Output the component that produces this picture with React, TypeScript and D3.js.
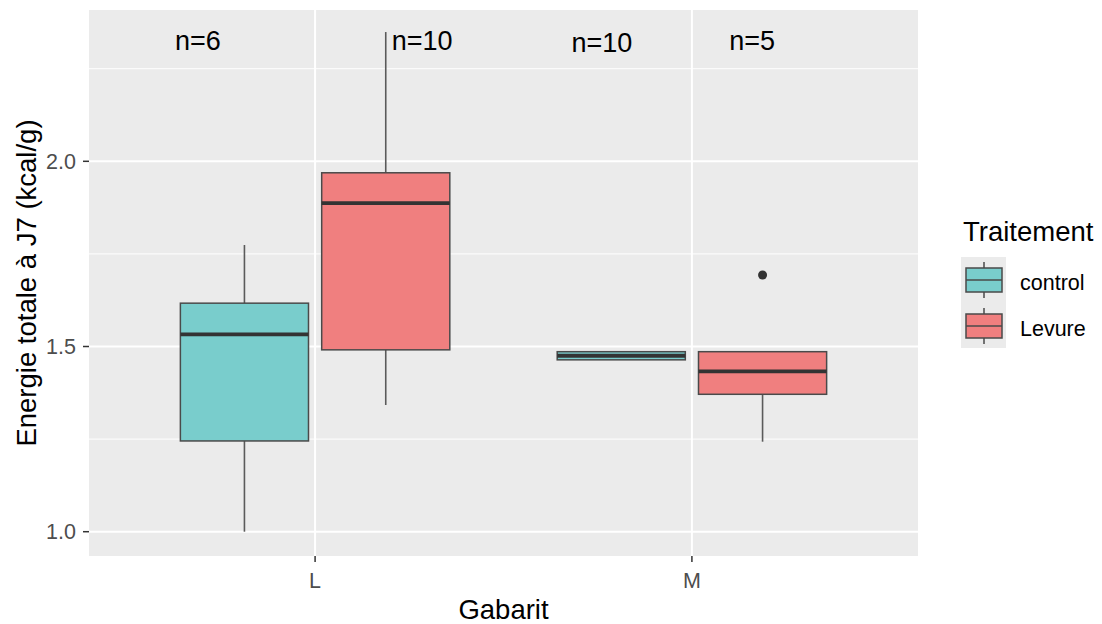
import React from "react";
import * as d3 from "d3";

const categories = ["L", "M"];
const treatments = ["control", "Levure"];
const fillColors = ["#79CDCC", "#F07F7F"];
// [lowerWhisker, q1, median, q3, upperWhisker] per category
const controlStats = [
  [1.0, 1.245, 1.533, 1.617, 1.774],
  [1.464, 1.464, 1.475, 1.486, 1.486],
];
const levureStats = [
  [1.342, 1.491, 1.887, 1.969, 2.349],
  [1.243, 1.371, 1.433, 1.486, 1.486],
];
const levureOutliers = [[], [1.693]];
const controlOutliers = [[], []];
const nLabels = ["n=6", "n=10", "n=10", "n=5"];
const nLabelX = [0.689, 1.284, 1.761, 2.16];
const nLabelY = [2.3, 2.3, 2.295, 2.3];
const yTicks = [1.0, 1.5, 2.0];
const yMinor = [1.25, 1.75, 2.25];

const W = 1102;
const H = 624;
const panel = { left: 89, right: 918, top: 10, bottom: 556 };
const FONT = "'Liberation Sans', Arial, sans-serif";

export default function App() {
  const x = d3.scaleLinear().domain([0.4, 2.6]).range([panel.left, panel.right]);
  const y = d3.scaleLinear().domain([0.9344, 2.4085]).range([panel.bottom, panel.top]);
  const dodge = 0.1875;
  const boxW = 0.34;
  const series = [
    { stats: controlStats, outliers: controlOutliers, fill: fillColors[0], off: -dodge },
    { stats: levureStats, outliers: levureOutliers, fill: fillColors[1], off: dodge },
  ];

  return (
    <svg width={W} height={H} style={{ position: "absolute", left: 0, top: 0, background: "#fff" }}>
      <rect x={panel.left} y={panel.top} width={panel.right - panel.left} height={panel.bottom - panel.top} fill="#EBEBEB" />
      {yMinor.map((v) => (
        <line key={"mn" + v} x1={panel.left} x2={panel.right} y1={y(v)} y2={y(v)} stroke="#fff" strokeWidth={1} />
      ))}
      {yTicks.map((v) => (
        <line key={"mj" + v} x1={panel.left} x2={panel.right} y1={y(v)} y2={y(v)} stroke="#fff" strokeWidth={2} />
      ))}
      {categories.map((c, i) => (
        <line key={"vx" + c} x1={x(i + 1)} x2={x(i + 1)} y1={panel.top} y2={panel.bottom} stroke="#fff" strokeWidth={2} />
      ))}

      {series.map((s, si) =>
        s.stats.map((st, ci) => {
          const cx = x(ci + 1 + s.off);
          const x0 = x(ci + 1 + s.off - boxW / 2);
          const x1 = x(ci + 1 + s.off + boxW / 2);
          const [lw, q1, med, q3, uw] = st;
          return (
            <g key={`b${si}-${ci}`}>
              <line x1={cx} x2={cx} y1={y(uw)} y2={y(q3)} stroke="#5a5a5a" strokeWidth={1.6} />
              <line x1={cx} x2={cx} y1={y(q1)} y2={y(lw)} stroke="#5a5a5a" strokeWidth={1.6} />
              <rect x={x0} y={y(q3)} width={x1 - x0} height={y(q1) - y(q3)} fill={s.fill} stroke="#4a4a4a" strokeWidth={1.5} />
              <line x1={x0} x2={x1} y1={y(med)} y2={y(med)} stroke="#333" strokeWidth={3.8} />
              {s.outliers[ci].map((o, oi) => (
                <circle key={oi} cx={cx} cy={y(o)} r={4.5} fill="#333" />
              ))}
            </g>
          );
        })
      )}

      {nLabels.map((t, i) => (
        <text key={"n" + i} x={x(nLabelX[i])} y={y(nLabelY[i])} textAnchor="middle" fontFamily={FONT} fontSize={27} fill="#000">
          {t}
        </text>
      ))}

      {yTicks.map((v) => (
        <g key={"yt" + v}>
          <line x1={panel.left - 6} x2={panel.left} y1={y(v)} y2={y(v)} stroke="#333" strokeWidth={1.5} />
          <text x={panel.left - 13} y={y(v)} dy="0.36em" textAnchor="end" fontFamily={FONT} fontSize={21.5} fill="#4D4D4D">
            {d3.format(".1f")(v)}
          </text>
        </g>
      ))}
      {categories.map((c, i) => (
        <g key={"xt" + c}>
          <line x1={x(i + 1)} x2={x(i + 1)} y1={panel.bottom} y2={panel.bottom + 6} stroke="#333" strokeWidth={1.5} />
          <text x={x(i + 1)} y={panel.bottom + 32} textAnchor="middle" fontFamily={FONT} fontSize={21.5} fill="#4D4D4D">
            {c}
          </text>
        </g>
      ))}

      <text x={(panel.left + panel.right) / 2} y={619} textAnchor="middle" fontFamily={FONT} fontSize={27.5} fill="#000">
        Gabarit
      </text>
      <text
        transform={`translate(36, ${(panel.top + panel.bottom) / 2}) rotate(-90)`}
        textAnchor="middle"
        fontFamily={FONT}
        fontSize={27.5}
        fill="#000"
      >
        Energie totale à J7 (kcal/g)
      </text>

      <text x={963} y={241} fontFamily={FONT} fontSize={27.5} fill="#000">
        Traitement
      </text>
      <rect x={961} y={257} width={45} height={91} fill="#EBEBEB" />
      {treatments.map((t, i) => {
        const cy = 280 + i * 46;
        return (
          <g key={"lg" + t}>
            <line x1={984} x2={984} y1={cy - 18} y2={cy + 18} stroke="#4a4a4a" strokeWidth={1.5} />
            <rect x={966} y={cy - 12} width={36} height={24} fill={fillColors[i]} stroke="#4a4a4a" strokeWidth={1.5} />
            <line x1={966} x2={1002} y1={cy} y2={cy} stroke="#4a4a4a" strokeWidth={1.5} />
            <text x={1020} y={cy + 2} dy="0.36em" fontFamily={FONT} fontSize={21.5} fill="#000">
              {t}
            </text>
          </g>
        );
      })}
    </svg>
  );
}
